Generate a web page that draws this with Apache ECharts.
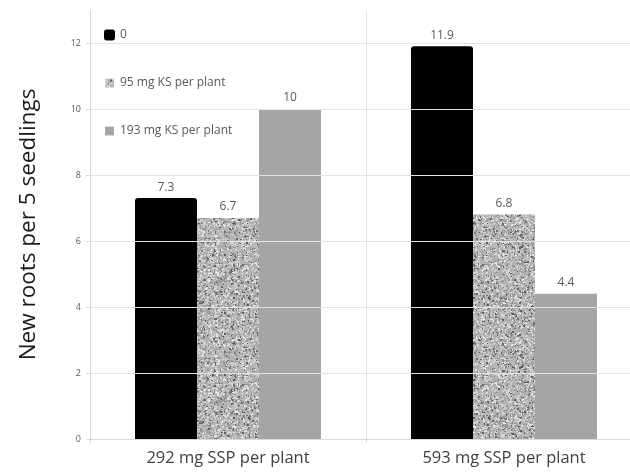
<!DOCTYPE html>
<html>
<head>
<meta charset="utf-8">
<script src="https://cdn.jsdelivr.net/npm/echarts@6/dist/echarts.min.js"></script>
<style>
html,body{margin:0;padding:0;background:#fff;overflow:hidden;width:630px;height:472px;}
#chart{width:650px;height:472px;}
</style>
</head>
<body>
<div id="chart"></div>
<script>
var categories = ['292 mg SSP per plant', '593 mg SSP per plant'];
var seriesNames = ['0', '95 mg KS per plant', '193 mg KS per plant'];
var values0 = [7.3, 11.9];
var values95 = [6.7, 6.8];
var values193 = [10, 4.4];
var yTicks = [0, 2, 4, 6, 8, 10, 12];
var yTitle = 'New roots per 5 seedlings';

// speckled texture (decorative only)
function makeSpeckle() {
  var c = document.createElement('canvas');
  c.width = 120; c.height = 120;
  var ctx = c.getContext('2d');
  ctx.fillStyle = '#b4b4b4';
  ctx.fillRect(0, 0, 120, 120);
  var s = 98765;
  function rnd() { s = (s * 1103515245 + 12345) & 0x7fffffff; return s / 0x7fffffff; }
  for (var i = 0; i < 6000; i++) {
    var x = Math.floor(rnd() * 120), y = Math.floor(rnd() * 120);
    var r = rnd();
    var v, w = rnd() < 0.5 ? 1 : 2, h = rnd() < 0.5 ? 1 : 2;
    if (r < 0.16) v = 85 + Math.floor(rnd() * 50);
    else if (r < 0.55) v = 145 + Math.floor(rnd() * 35);
    else v = 195 + Math.floor(rnd() * 40);
    ctx.fillStyle = 'rgb(' + v + ',' + v + ',' + v + ')';
    ctx.fillRect(x, y, w, h);
  }
  return c;
}
var speckle = makeSpeckle();

var chart = echarts.init(document.getElementById('chart'), null, {renderer: 'canvas'});
var labelStyle = {show: true, position: 'top', distance: 5, color: '#595959', fontSize: 12, fontFamily: 'Open Sans'};
var gridLines = yTicks.filter(function (v) { return v > 0; }).map(function (v) { return {yAxis: v}; });
var smallSquare = 'path://M0,0M10,10M1,1L9,1L9,9L1,9Z';

chart.setOption({
  animation: false,
  backgroundColor: '#ffffff',
  textStyle: {fontFamily: 'Open Sans'},
  grid: {left: 90, top: 10, width: 552, height: 429},
  legend: {
    orient: 'vertical', left: 99, top: 24, itemGap: 36,
    itemWidth: 11, itemHeight: 11,
    textStyle: {color: '#595959', fontSize: 12, fontFamily: 'Open Sans'},
    data: [
      {name: seriesNames[0], icon: 'roundRect', itemStyle: {color: '#000'}},
      {name: seriesNames[1], icon: smallSquare},
      {name: seriesNames[2], icon: smallSquare}
    ]
  },
  xAxis: {
    type: 'category', data: categories,
    axisLine: {show: true, lineStyle: {color: '#d9d9d9'}},
    axisTick: {show: true, length: 4, lineStyle: {color: '#d9d9d9'}},
    splitLine: {show: true, lineStyle: {color: '#e6e6e6'}},
    axisLabel: {color: '#404040', fontSize: 16.5, margin: 11, fontFamily: 'Open Sans'}
  },
  yAxis: {
    type: 'value', min: 0, max: 13, interval: 2,
    name: yTitle, nameLocation: 'middle', nameGap: 50,
    nameTextStyle: {color: '#1a1a1a', fontSize: 22.5, fontFamily: 'Open Sans'},
    axisLine: {show: true, lineStyle: {color: '#d9d9d9'}},
    axisTick: {show: true, length: 4, lineStyle: {color: '#d9d9d9'}},
    splitLine: {show: false},
    axisLabel: {color: '#595959', fontSize: 9, margin: 9, showMaxLabel: false}
  },
  series: [
    {
      name: seriesNames[0], type: 'bar', data: values0, barWidth: 62, barGap: '0%',
      itemStyle: {color: '#000000', borderRadius: [3, 3, 0, 0]},
      label: labelStyle,
      markLine: {
        silent: true, symbol: 'none', label: {show: false},
        lineStyle: {color: '#e3e3e3', type: 'solid', width: 1},
        data: gridLines
      },
      z: 3
    },
    {
      name: seriesNames[1], type: 'bar', data: values95, barWidth: 62, barGap: '0%',
      itemStyle: {color: {image: speckle, repeat: 'repeat'}},
      label: labelStyle, z: 3
    },
    {
      name: seriesNames[2], type: 'bar', data: values193, barWidth: 62, barGap: '0%',
      itemStyle: {color: '#a5a5a5'},
      label: labelStyle, z: 3
    }
  ]
});
</script>
</body>
</html>
